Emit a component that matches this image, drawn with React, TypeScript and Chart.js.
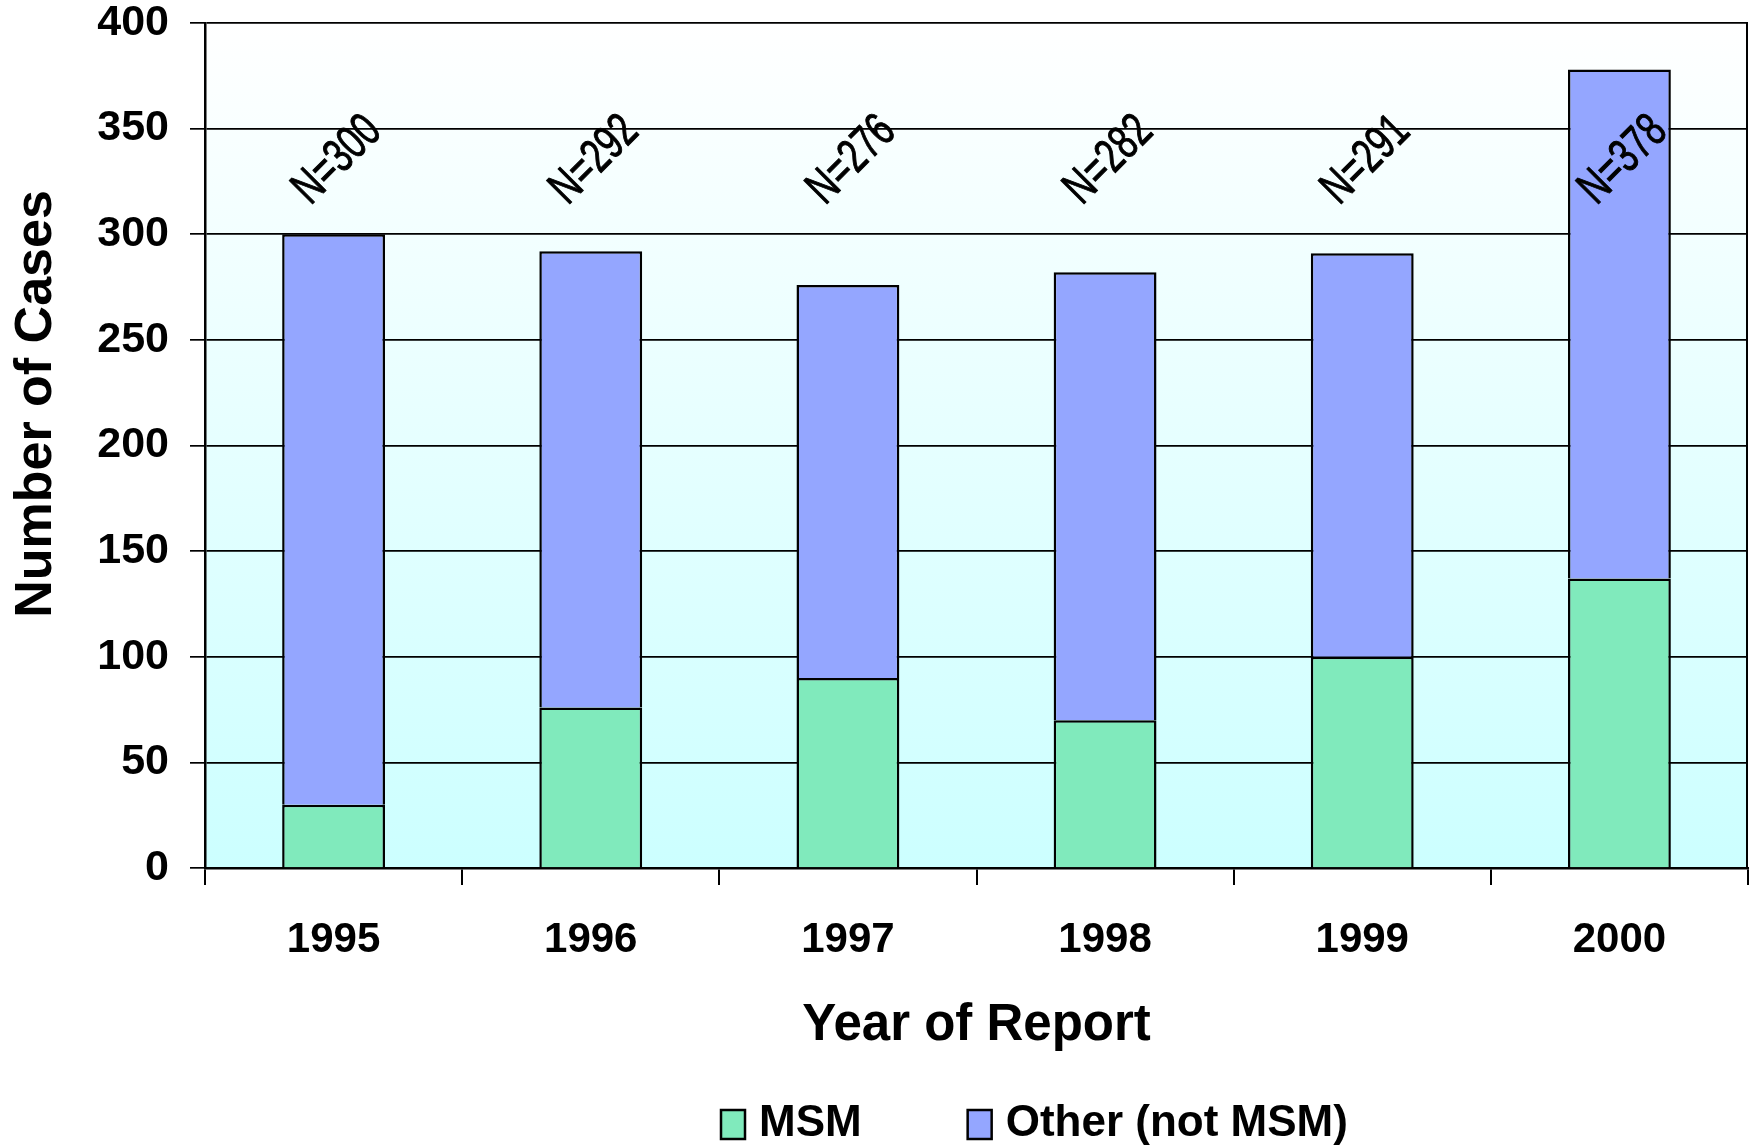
import React, { useEffect, useRef } from "react";
import { Chart, registerables } from "chart.js";

Chart.register(...registerables);

// ---- data ----
const years = ["1995", "1996", "1997", "1998", "1999", "2000"];
const msmCases = [30, 76, 90, 70, 100, 137];
const otherCases = [270, 216, 186, 212, 191, 241];
const seriesLabels = ["MSM", "Other (not MSM)"];
const yMin = 0;
const yMax = 400;
const yStep = 50;
const xTitle = "Year of Report";
const yTitle = "Number of Cases";

// ---- style ----
const FONT = '"Liberation Sans", Arial, Helvetica, sans-serif';
const MSM_COLOR = "#80EABC";
const OTHER_COLOR = "#94A6FF";

const backgroundPlugin = {
  id: "plotBackground",
  beforeDraw(chart: any) {
    const { ctx, chartArea } = chart;
    if (!chartArea) return;
    const { left, top, right, bottom } = chartArea;
    const g = ctx.createLinearGradient(0, top, 0, bottom);
    g.addColorStop(0, "#FFFFFF");
    g.addColorStop(1, "#CCFFFF");
    ctx.save();
    ctx.fillStyle = g;
    ctx.fillRect(left, top, right - left, bottom - top);
    ctx.restore();
  },
  beforeDatasetsDraw(chart: any) {
    const { ctx, chartArea } = chart;
    ctx.save();
    ctx.strokeStyle = "#000";
    ctx.lineWidth = 2;
    ctx.beginPath();
    ctx.moveTo(chartArea.right - 1, chartArea.top);
    ctx.lineTo(chartArea.right - 1, chartArea.bottom);
    ctx.stroke();
    ctx.restore();
  },
};

const totalsLabelPlugin = {
  id: "totalsLabels",
  afterDatasetsDraw(chart: any) {
    const { ctx } = chart;
    const xs = chart.scales.x;
    const ys = chart.scales.y;
    const yPix = ys.getPixelForValue(335);
    ctx.save();
    ctx.fillStyle = "#000";
    ctx.strokeStyle = "#000";
    ctx.lineWidth = 1;
    ctx.font = `48px ${FONT}`;
    ctx.textAlign = "center";
    ctx.textBaseline = "middle";
    years.forEach((_, i) => {
      const total = msmCases[i] + otherCases[i];
      const x = xs.getPixelForValue(i) + 4;
      ctx.save();
      ctx.translate(x, yPix);
      ctx.rotate(-Math.PI / 4);
      ctx.scale(0.72, 1);
      ctx.fillText(`N=${total}`, 0, 0);
      ctx.strokeText(`N=${total}`, 0, 0);
      ctx.restore();
    });
    ctx.restore();
  },
};

const legendAndTitlePlugin = {
  id: "legendAndTitle",
  afterDraw(chart: any) {
    const { ctx } = chart;
    ctx.save();
    // y axis title
    ctx.fillStyle = "#000";
    ctx.font = `bold 52px ${FONT}`;
    ctx.textAlign = "center";
    ctx.textBaseline = "middle";
    ctx.translate(37, 404);
    ctx.rotate(-Math.PI / 2);
    ctx.fillText(yTitle, 0, 0);
    ctx.restore();

    // legend
    ctx.save();
    ctx.font = `bold 44px ${FONT}`;
    ctx.textAlign = "left";
    ctx.textBaseline = "middle";
    const colors = [MSM_COLOR, OTHER_COLOR];
    let x = 721;
    const yc = 1124;
    seriesLabels.forEach((label, i) => {
      ctx.fillStyle = colors[i];
      ctx.fillRect(x, yc - 14, 24, 29);
      ctx.strokeStyle = "#000";
      ctx.lineWidth = 2.5;
      ctx.strokeRect(x, yc - 14, 24, 29);
      ctx.fillStyle = "#000";
      ctx.fillText(label, x + 38, yc);
      const w = ctx.measureText(label).width;
      x = x + 38 + w + 106;
    });
    ctx.restore();
  },
};

export default function App() {
  const ref = useRef<HTMLCanvasElement>(null);

  useEffect(() => {
    if (!ref.current) return;
    const chart = new Chart(ref.current, {
      type: "bar",
      data: {
        labels: years,
        datasets: [
          {
            label: seriesLabels[0],
            data: msmCases,
            backgroundColor: MSM_COLOR,
            borderColor: "#000",
            borderWidth: 2.5,
            borderSkipped: "start",
            categoryPercentage: 0.4,
            barPercentage: 1,
          },
          {
            label: seriesLabels[1],
            data: otherCases,
            backgroundColor: OTHER_COLOR,
            borderColor: "#000",
            borderWidth: 2.5,
            borderSkipped: "start",
            categoryPercentage: 0.4,
            barPercentage: 1,
          },
        ],
      },
      options: {
        animation: false,
        responsive: true,
        maintainAspectRatio: false,
        layout: { padding: { left: 0, right: 8, top: 23, bottom: 0 } },
        plugins: {
          legend: { display: false },
          tooltip: { enabled: false },
        },
        scales: {
          x: {
            stacked: true,
            grid: {
              display: true,
              drawOnChartArea: false,
              drawTicks: true,
              tickLength: 17,
              color: "#000",
              lineWidth: 2,
              offset: true,
            },
            border: { display: true, color: "#000", width: 2.5 },
            ticks: {
              color: "#000",
              font: { family: FONT, size: 42, weight: "bold" },
              padding: 30,
              maxRotation: 0,
              autoSkip: false,
            },
            title: {
              display: true,
              text: xTitle,
              color: "#000",
              font: { family: FONT, size: 51, weight: "bold" },
              padding: { top: 0, bottom: 90 },
            },
            afterFit: (s: any) => {
              s.height = 279;
              s.paddingLeft = 0;
              s.paddingRight = 0;
            },
          },
          y: {
            stacked: true,
            min: yMin,
            max: yMax,
            ticks: {
              stepSize: yStep,
              color: "#000",
              font: { family: FONT, size: 43, weight: "bold" },
              padding: 21,
            },
            grid: { color: "#000", lineWidth: 1.7, tickLength: 15, drawTicks: true },
            border: { display: true, color: "#000", width: 2.5 },
            afterFit: (s: any) => {
              s.width = 205;
              s.paddingTop = 0;
              s.paddingBottom = 0;
            },
          },
        },
      } as any,
      plugins: [backgroundPlugin, totalsLabelPlugin, legendAndTitlePlugin],
    });
    return () => chart.destroy();
  }, []);

  return (
    <div
      style={{
        position: "absolute",
        left: 0,
        top: 0,
        width: 1756,
        height: 1147,
        background: "#fff",
      }}
    >
      <canvas ref={ref} style={{ display: "block" }} />
    </div>
  );
}
